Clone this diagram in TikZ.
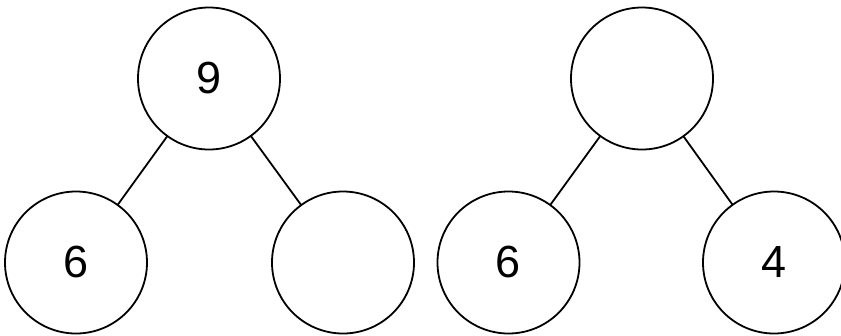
\documentclass[tikz,border=0pt]{standalone}
\usepackage{fontspec}
\setmainfont{Liberation Sans}
\begin{document}
\begin{tikzpicture}[x=1pt,y=-1pt,
  treenode/.style={circle,draw=black,line width=1.8pt,minimum size=142pt,inner sep=0pt,outer sep=0pt,font=\fontsize{45}{50}\selectfont},
  edge/.style={draw=black,line width=1.8pt}]
\useasboundingbox (0,0) rectangle (841,335);
\node[treenode] (a) at (209,78.5) {9};
\node[treenode] (b) at (76,262.5) {6};
\node[treenode] (c) at (343,262.5) {};
\node[treenode] (d) at (642,78.5) {};
\node[treenode] (e) at (508.5,262.5) {6};
\node[treenode] (f) at (774,262.5) {4};
\draw[edge] (a) -- (b);
\draw[edge] (a) -- (c);
\draw[edge] (d) -- (e);
\draw[edge] (d) -- (f);
\end{tikzpicture}
\end{document}
